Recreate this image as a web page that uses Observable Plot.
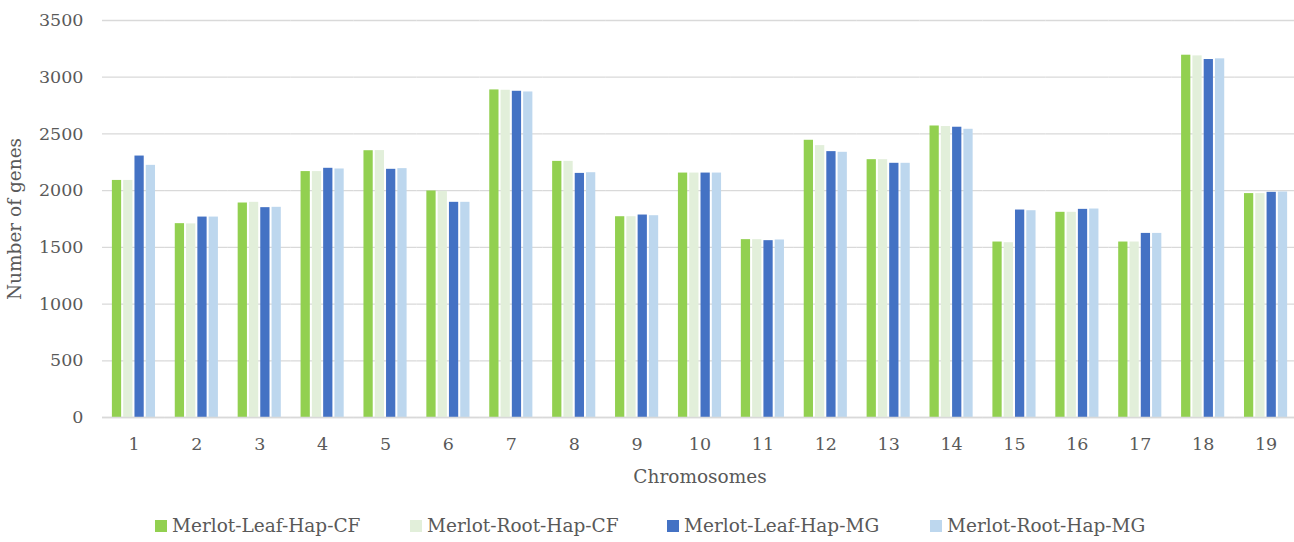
<!DOCTYPE html>
<html>
<head>
<meta charset="utf-8">
<script src="https://cdn.jsdelivr.net/npm/d3@7"></script>
<script src="https://cdn.jsdelivr.net/npm/@observablehq/plot@0.6"></script>
<style>
  body { margin: 0; background: #fff; font-family: "DejaVu Serif", serif; }
  #chart { position: relative; width: 1294px; height: 542px; }
  #legend { position: absolute; top: 515px; left: 0; width: 1294px; height: 26px; font-family: "DejaVu Serif", serif; font-size: 18.5px; color: #595959; }
  .item { position: absolute; top: 0; display: flex; align-items: center; white-space: nowrap; }
  .sw { width: 12px; height: 12px; margin-right: 5px; }
  .axlabel { font-size: 18.5px; }
</style>
</head>
<body>
<div id="chart"></div>
<script>
const chromosomes = ["1","2","3","4","5","6","7","8","9","10","11","12","13","14","15","16","17","18","19"];
const seriesNames = ["Merlot-Leaf-Hap-CF", "Merlot-Root-Hap-CF", "Merlot-Leaf-Hap-MG", "Merlot-Root-Hap-MG"];
const seriesColors = ["#92D050", "#E2EFDA", "#4472C4", "#BDD7EE"];
const leafCF = [2090, 1709, 1891, 2168, 2352, 1997, 2888, 2258, 1770, 2155, 1568, 2444, 2273, 2570, 1547, 1809, 1547, 3194, 1974];
const rootCF = [2090, 1707, 1897, 2168, 2353, 1994, 2885, 2258, 1770, 2155, 1568, 2397, 2273, 2565, 1541, 1809, 1547, 3188, 1974];
const leafMG = [2305, 1767, 1850, 2197, 2188, 1897, 2876, 2152, 1785, 2155, 1559, 2344, 2241, 2559, 1829, 1835, 1623, 3156, 1985];
const rootMG = [2223, 1767, 1853, 2191, 2194, 1897, 2870, 2158, 1779, 2155, 1565, 2338, 2241, 2541, 1823, 1838, 1623, 3162, 1988];
const yTicks = [0, 500, 1000, 1500, 2000, 2500, 3000, 3500];

const valueArrays = [leafCF, rootCF, leafMG, rootMG];
const rows = [];
chromosomes.forEach((c, i) => {
  seriesNames.forEach((s, j) => rows.push({chr: c, series: s, value: valueArrays[j][i]}));
});

const textColor = "#595959";
const chart = Plot.plot({
  width: 1294,
  height: 505,
  marginLeft: 102,
  marginRight: 0,
  marginTop: 20,
  marginBottom: 88,
  style: { fontFamily: "DejaVu Serif, serif", fontSize: "17.5px", color: textColor, background: "white" },
  fx: { domain: chromosomes, padding: 0, round: false, range: [102, 1297] },
  x: { domain: seriesNames, paddingInner: 0.18, paddingOuter: 0.875, round: false, axis: null },
  y: { domain: [0, 3500] },
  color: { domain: seriesNames, range: seriesColors },
  marks: [
    Plot.gridY(yTicks, { stroke: "#d9d9d9", strokeOpacity: 1, strokeWidth: 1.3 }),
    Plot.barY(rows, { fx: "chr", x: "series", y: "value", fill: "series" }),
    Plot.ruleY([0], { stroke: "#d9d9d9", strokeWidth: 1.6 }),
    Plot.axisY(yTicks, { tickSize: 0, tickPadding: 19, tickFormat: d => String(d), label: null, fill: textColor }),
    Plot.axisY({ tickSize: 0, ticks: [], label: "Number of genes", labelAnchor: "center", labelOffset: 95, labelArrow: "none", fill: textColor, fontSize: 18.5 }),
    Plot.axisFx({ anchor: "bottom", tickSize: 0, tickPadding: 20, label: null, fill: textColor }),
    Plot.axisFx({ anchor: "bottom", tickSize: 0, ticks: [], tickFormat: () => "", label: "Chromosomes", labelAnchor: "center", labelOffset: 65, labelArrow: "none", fill: textColor, fontSize: 18.5 })
  ]
});
document.getElementById("chart").appendChild(chart);

const legend = document.createElement("div");
legend.id = "legend";
const lefts = [155, 410, 667, 930];
seriesNames.forEach((s, j) => {
  const it = document.createElement("div");
  it.className = "item";
  it.style.left = lefts[j] + "px";
  const sw = document.createElement("span");
  sw.className = "sw";
  sw.style.background = seriesColors[j];
  const t = document.createElement("span");
  t.textContent = s;
  it.appendChild(sw); it.appendChild(t);
  legend.appendChild(it);
});
document.getElementById("chart").appendChild(legend);
</script>
</body>
</html>
